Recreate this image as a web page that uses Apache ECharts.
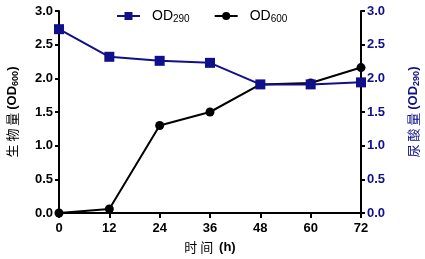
<!DOCTYPE html>
<html>
<head>
<meta charset="utf-8">
<script src="https://cdn.jsdelivr.net/npm/echarts@6/dist/echarts.min.js"></script>
<style>
html,body{margin:0;padding:0;background:#fff;}
#main{width:425px;height:259px;}
</style>
</head>
<body>
<div id="main"></div>
<script>
// 数据
var hours = [0, 12, 24, 36, 48, 60, 72];
var od290 = [2.73, 2.32, 2.26, 2.23, 1.91, 1.91, 1.94];
var od600 = [0.0, 0.06, 1.30, 1.50, 1.91, 1.93, 2.16];

var navy = '#10108a';
var font = '"Liberation Sans", Arial, sans-serif';
var cjk = '"Noto Sans CJK SC", sans-serif';
var myChart = echarts.init(document.getElementById('main'));

function pairs(ys) {
    return hours.map(function (h, i) { return [h, ys[i]]; });
}

var option = {
    animation: false,
    legend: {
        top: 4,
        left: 111,
        itemGap: 24,
        itemWidth: 23,
        itemHeight: 10,
        textStyle: {
            fontSize: 14, fontFamily: font, color: '#000',
            padding: [0, 0, 0, 7],
            rich: {
                b: {fontSize: 14, fontFamily: font, color: '#000'},
                s: {fontSize: 10, fontFamily: font, color: '#000', verticalAlign: 'bottom', padding: [6, 0, 0, 0]}
            }
        },
        formatter: function (name) {
            return '{b|OD}{s|' + name.slice(2) + '}';
        },
        data: ['OD290', 'OD600']
    },
    grid: {left: 59, right: 64, top: 11, bottom: 46, outerBoundsMode: 'none'},
    xAxis: {
        type: 'value',
        min: 0, max: 72, interval: 12,
        name: '{c|时 间  }{b|(h)}',
        nameLocation: 'middle',
        nameGap: 28,
        nameTextStyle: {
            rich: {
                c: {fontSize: 13, fontFamily: cjk, color: '#000'},
                b: {fontSize: 13, fontWeight: 'bold', fontFamily: font, color: '#000'}
            }
        },
        axisLine: {lineStyle: {color: '#000', width: 2}},
        axisTick: {show: true, length: 5, lineStyle: {color: '#000', width: 2}},
        axisLabel: {color: '#000', fontSize: 13, fontWeight: 'bold', fontFamily: font, margin: 9},
        splitLine: {show: false}
    },
    yAxis: [
        {
            type: 'value',
            min: 0, max: 3, interval: 0.5,
            position: 'left',
            name: '{c|生 物 量 }{b|(OD}{s|600}{b|)}',
            nameLocation: 'middle',
            nameGap: 39,
            nameRotate: 90,
            nameTextStyle: {
                rich: {
                    c: {fontSize: 13, fontFamily: cjk, color: '#000'},
                    b: {fontSize: 13, fontWeight: 'bold', fontFamily: font, color: '#000'},
                    s: {fontSize: 9, fontWeight: 'bold', fontFamily: font, color: '#000', verticalAlign: 'bottom', padding: [6, 0, 0, 0]}
                }
            },
            axisLine: {show: true, lineStyle: {color: '#000', width: 2}},
            axisTick: {show: true, length: 4, lineStyle: {color: '#000', width: 2}},
            axisLabel: {
                color: '#000', fontSize: 13, fontWeight: 'bold', fontFamily: font, margin: 6,
                formatter: function (v) { return v.toFixed(1); }
            },
            splitLine: {show: false}
        },
        {
            type: 'value',
            min: 0, max: 3, interval: 0.5,
            position: 'right',
            name: '{c|尿 酸 量 }{b|(OD}{s|290}{b|)}',
            nameLocation: 'middle',
            nameGap: 45,
            nameRotate: 90,
            nameTextStyle: {
                rich: {
                    c: {fontSize: 13, fontFamily: cjk, color: navy},
                    b: {fontSize: 13, fontWeight: 'bold', fontFamily: font, color: navy},
                    s: {fontSize: 9, fontWeight: 'bold', fontFamily: font, color: navy, verticalAlign: 'bottom', padding: [6, 0, 0, 0]}
                }
            },
            axisLine: {show: true, lineStyle: {color: '#000', width: 2}},
            axisTick: {show: true, length: 4, lineStyle: {color: '#000', width: 2}},
            axisLabel: {
                color: navy, fontSize: 13, fontWeight: 'bold', fontFamily: font, margin: 6,
                formatter: function (v) { return v.toFixed(1); }
            },
            splitLine: {show: false}
        }
    ],
    series: [
        {
            name: 'OD290',
            type: 'line',
            yAxisIndex: 1,
            data: pairs(od290),
            symbol: 'rect',
            symbolSize: 10,
            itemStyle: {color: navy},
            lineStyle: {color: navy, width: 2},
            z: 3
        },
        {
            name: 'OD600',
            type: 'line',
            yAxisIndex: 0,
            data: pairs(od600),
            symbol: 'circle',
            symbolSize: 9,
            itemStyle: {color: '#000'},
            lineStyle: {color: '#000', width: 2},
            z: 2
        }
    ]
};
myChart.setOption(option);
</script>
</body>
</html>
